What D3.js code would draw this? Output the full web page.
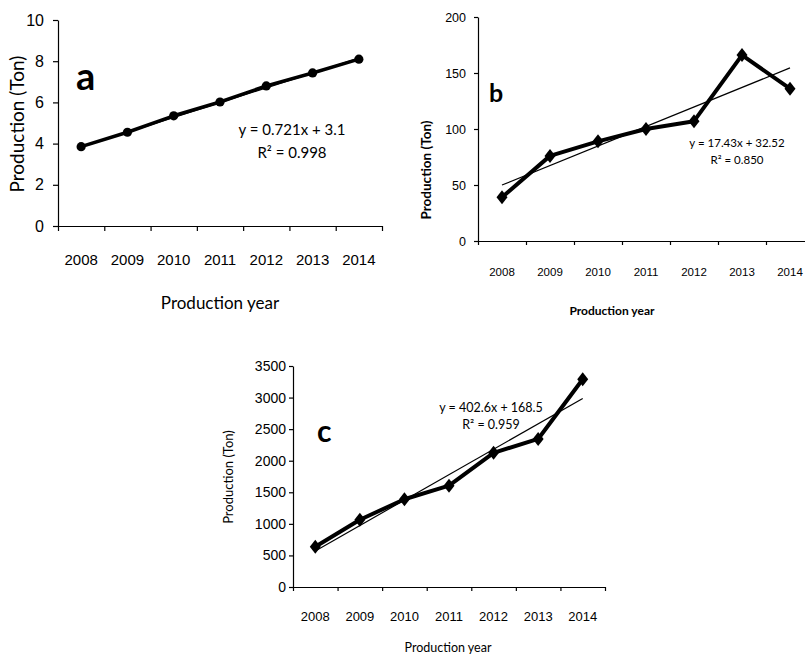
<!DOCTYPE html>
<html>
<head>
<meta charset="utf-8">
<script src="https://cdn.jsdelivr.net/npm/d3@7"></script>
<style>
  body { margin: 0; background: #fff; }
  svg { display: block; font-family: Lato, "Open Sans", sans-serif; }
  .domain, .tick line { stroke: #000; stroke-width: 1.2px; }
</style>
</head>
<body>
<svg id="chart" width="805" height="655"></svg>
<script>
const years = ["2008", "2009", "2010", "2011", "2012", "2013", "2014"];

// panel a, b, c production values (ton)
const prodA = [3.85, 4.55, 5.35, 6.02, 6.8, 7.43, 8.1];
const prodB = [39, 76, 89, 100, 107, 166, 136];
const prodC = [638, 1065, 1390, 1605, 2125, 2345, 3290];

const ticksA = [0, 2, 4, 6, 8, 10];
const ticksB = [0, 50, 100, 150, 200];
const ticksC = [0, 500, 1000, 1500, 2000, 2500, 3000, 3500];

// linear fits shown on the figure
const fitA = [0.721, 3.1, "0.998"];
const fitB = [17.43, 32.52, "0.850"];
const fitC = [402.6, 168.5, "0.959"];

const svg = d3.select("#chart");

function panel(o) {
  const g = svg.append("g");
  const x = d3.scaleBand().domain(years).range([o.left, o.right]);
  const edge = d3.scaleLinear().domain([0, years.length]).range([o.left, o.right]);
  const y = d3.scaleLinear().domain([0, d3.max(o.ticks)]).range([o.bottom, o.top]);

  // y axis
  g.append("g")
    .attr("transform", "translate(" + o.left + ",0)")
    .call(d3.axisLeft(y).tickValues(o.ticks).tickFormat(d3.format("d"))
      .tickSize(o.tick).tickPadding(o.yPad).tickSizeOuter(0))
    .selectAll("text")
      .style("font-size", o.yFont + "px")
      .style("font-family", "inherit")
      .attr("fill", "#000");

  // x axis: ticks between categories, labels centred
  g.append("g")
    .attr("transform", "translate(0," + o.bottom + ")")
    .call(d3.axisBottom(edge).tickValues(d3.range(years.length + 1)).tickFormat("").tickSize(o.tick).tickSizeOuter(0));
  g.append("g")
    .attr("transform", "translate(0," + o.bottom + ")")
    .call(d3.axisBottom(x).tickSize(0).tickPadding(o.xPad))
    .call(a => a.select(".domain").remove())
    .selectAll("text")
      .style("font-size", o.xFont + "px")
      .style("font-family", "inherit")
      .attr("fill", "#000");

  const cx = d => x(d) + x.bandwidth() / 2;

  // trend line
  const f = o.fit;
  g.append("line")
    .attr("x1", cx(years[0])).attr("y1", y(f[0] * 1 + f[1]))
    .attr("x2", cx(years[years.length - 1])).attr("y2", y(f[0] * years.length + f[1]))
    .attr("stroke", "#000").attr("stroke-width", 1.2);

  // data line
  g.append("path")
    .datum(o.values)
    .attr("fill", "none")
    .attr("stroke", "#000")
    .attr("stroke-width", o.lineW)
    .attr("stroke-linejoin", "round")
    .attr("d", d3.line().x((d, i) => cx(years[i])).y(d => y(d)));

  // markers
  const m = g.selectAll(".mk").data(o.values).enter();
  if (o.marker === "circle") {
    m.append("circle")
      .attr("cx", (d, i) => cx(years[i]))
      .attr("cy", d => y(d))
      .attr("r", 4.6)
      .attr("fill", "#000");
  } else {
    m.append("path")
      .attr("transform", (d, i) => "translate(" + cx(years[i]) + "," + y(d) + ")")
      .attr("d", "M0,-7L5.5,0L0,7L-5.5,0Z")
      .attr("fill", "#000");
  }

  // axis titles
  g.append("text")
    .attr("transform", "translate(" + o.yLab[0] + "," + o.yLab[1] + ") rotate(-90)")
    .attr("text-anchor", "middle")
    .attr("font-size", o.yLab[2])
    .attr("font-weight", o.bold ? "bold" : "normal")
    .text("Production (Ton)");
  g.append("text")
    .attr("x", o.xLab[0]).attr("y", o.xLab[1])
    .attr("text-anchor", "middle")
    .attr("font-size", o.xLab[2])
    .attr("font-weight", o.bold ? "bold" : "normal")
    .text("Production year");

  // panel letter
  g.append("text")
    .attr("x", o.letter[1]).attr("y", o.letter[2])
    .attr("font-size", o.letter[3])
    .attr("font-weight", "bold")
    .text(o.letter[0]);

  // equation
  g.append("text")
    .attr("x", o.eq[0]).attr("y", o.eq[1])
    .attr("text-anchor", "middle")
    .attr("font-size", o.eq[2])
    .text("y = " + f[0] + "x + " + f[1]);
  g.append("text")
    .attr("x", o.eq[0]).attr("y", o.eq[1] + o.eq[3])
    .attr("text-anchor", "middle")
    .attr("font-size", o.eq[2])
    .text("R² = " + f[2]);
}

panel({
  values: prodA, ticks: ticksA, fit: fitA, marker: "circle",
  left: 58, right: 382, top: 20, bottom: 226,
  tick: 5, yPad: 9, xPad: 28, yFont: 16, xFont: 15, lineW: 3.5,
  yLab: [24, 124, 19], xLab: [220, 309, 17],
  letter: ["a", 76, 90, 38], eq: [292, 135, 15, 23]
});

panel({
  values: prodB, ticks: ticksB, fit: fitB, marker: "diamond", bold: true,
  left: 478, right: 814, top: 17, bottom: 241,
  tick: 4, yPad: 8, xPad: 27, yFont: 12.5, xFont: 11.5, lineW: 4,
  yLab: [431, 170, 13.5], xLab: [612, 315, 12],
  letter: ["b", 489, 102, 25], eq: [737, 147, 11.5, 17]
});

panel({
  values: prodC, ticks: ticksC, fit: fitC, marker: "diamond",
  left: 293, right: 605, top: 366, bottom: 587,
  tick: 4, yPad: 3, xPad: 25, yFont: 14, xFont: 13, lineW: 4,
  yLab: [233, 477, 13], xLab: [448, 652, 12.5],
  letter: ["c", 317, 442, 30], eq: [491, 412, 12.5, 17]
});
</script>
</body>
</html>
